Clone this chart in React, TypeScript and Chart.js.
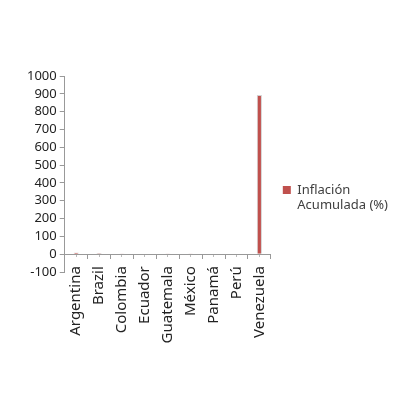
import React, { useEffect, useRef } from "react";
import { Chart, registerables } from "chart.js";

Chart.register(...registerables);

const categories = ["Argentina", "Brazil", "Colombia", "Ecuador", "Guatemala", "México", "Panamá", "Perú", "Venezuela"];
const inflacion = [10, 6, 4, 3, 4, 4, 2, 3, 893];
const seriesLabel = ["Inflación", "Acumulada (%)"];
const yMin = -100;
const yMax = 1000;
const yStep = 100;

export default function App() {
  const ref = useRef<HTMLCanvasElement | null>(null);
  useEffect(() => {
    if (!ref.current) return;
    const font = { family: "'Noto Sans', 'Open Sans', sans-serif", size: 13 };
    const xFont = { family: "'Noto Sans', 'Open Sans', sans-serif", size: 15 };
    const chart = new Chart(ref.current, {
      type: "bar",
      data: {
        labels: categories,
        datasets: [
          {
            label: seriesLabel.join(" "),
            data: inflacion,
            backgroundColor: "#C0504D",
            borderColor: "rgba(200,200,200,0.8)",
            borderWidth: 1,
            barPercentage: 0.9,
            categoryPercentage: 0.25,
          },
        ],
      },
      options: {
        animation: false,
        responsive: true,
        maintainAspectRatio: false,
        layout: { padding: { top: 76, left: 24, right: 5, bottom: 131 } },
        plugins: {
          tooltip: { enabled: false },
          legend: {
            position: "right",
            align: "center",
            maxWidth: 200,
            title: { display: true, text: " ", padding: { top: 0, bottom: 36 } },
            labels: {
              font,
              color: "#404040",
              boxWidth: 8,
              boxHeight: 8,
              padding: 12,
              generateLabels: () => [
                {
                  text: seriesLabel as any,
                  fillStyle: "#C0504D",
                  strokeStyle: "#C0504D",
                  lineWidth: 0,
                  hidden: false,
                  datasetIndex: 0,
                  fontColor: "#404040",
                },
              ],
            },
          },
        },
        scales: {
          x: {
            position: { y: 0 } as any,
            grid: { display: true, drawOnChartArea: false, tickLength: 4, color: "#999", offset: true },
            border: { display: true, color: "#999" },
            ticks: { font: xFont, color: "#222", minRotation: 90, maxRotation: 90, autoSkip: false, padding: 8 },
          },
          x2: {
            type: "category",
            labels: categories,
            position: { y: 0 } as any,
            offset: true,
            grid: { display: true, drawOnChartArea: false, tickLength: 3, color: "#bbb", offset: false },
            border: { display: false },
            ticks: { display: false },
          },
          y: {
            min: yMin,
            max: yMax,
            grid: { display: true, drawOnChartArea: false, tickLength: 5, color: "#999" },
            border: { display: true, color: "#999" },
            ticks: { stepSize: yStep, autoSkip: false, font, color: "#222", padding: 3, callback: (v: any) => String(v) },
          },
        },
      },
    });
    return () => chart.destroy();
  }, []);
  return (
    <div style={{ position: "absolute", left: 0, top: 0, width: 403, height: 403, background: "#fff" }}>
      <canvas ref={ref} />
    </div>
  );
}
